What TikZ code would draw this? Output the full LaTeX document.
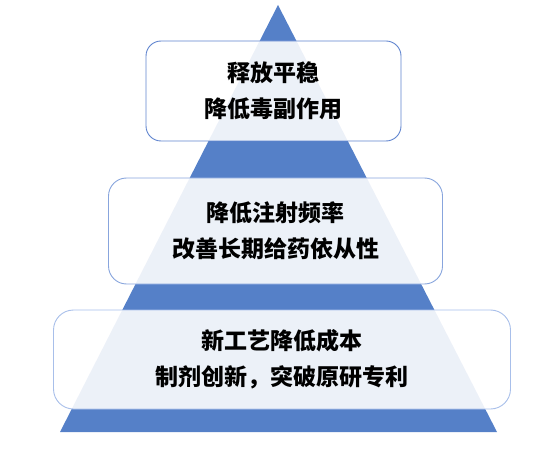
\documentclass[tikz,border=0pt]{standalone}
\usepackage{fontspec}
\newfontfamily\cjk{Noto Sans CJK SC}[BoldFont={* Black}]
\definecolor{triblue}{HTML}{5580C8}
\definecolor{edgeA}{HTML}{5F84CF}
\definecolor{edgeB}{HTML}{88A5DD}
\definecolor{edgeC}{HTML}{A8BFEA}
\tikzset{
  layerbox/.style={draw, line width=0.9pt, fill=white, fill opacity=0.89, text opacity=1,
    rectangle, align=center, font=\cjk\bfseries\fontsize{23}{36}\selectfont, text=black,
    inner sep=0pt}
}
\begin{document}
\begin{tikzpicture}[x=1pt,y=-1pt]
\useasboundingbox (0,0) rectangle (554,449);
\fill[triblue] (278,5) -- (497,432) -- (60,432) -- cycle;
\node[layerbox, draw=edgeA, rounded corners=15pt, minimum width=255pt, minimum height=100pt] (top) at (273.5,91) {释放平稳\\降低毒副作用};
\node[layerbox, draw=edgeB, rounded corners=18pt, minimum width=334pt, minimum height=106pt] (mid) at (275.5,231) {降低注射频率\\改善长期给药依从性};
\node[layerbox, draw=edgeC, rounded corners=20pt, minimum width=457pt, minimum height=99pt] (bot) at (282,359.5) {新工艺降低成本\\制剂创新，突破原研专利};
\end{tikzpicture}
\end{document}
